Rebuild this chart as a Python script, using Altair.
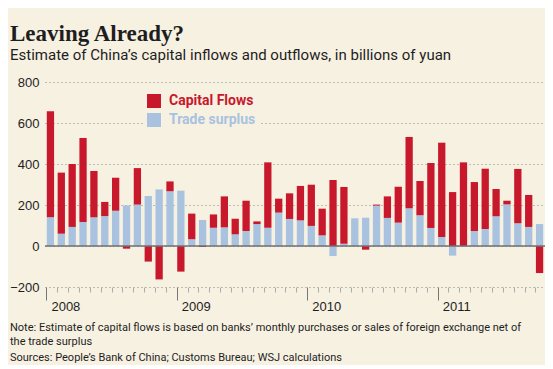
import altair as alt
import pandas as pd

# ---- data (billions of yuan) ----
months = [f"{y}-{m:02d}" for y in (2008, 2009, 2010, 2011) for m in range(1, 13)][:46]
trade_surplus = [140, 60, 93, 117, 140, 146, 172, 198, 202, 244, 276, 267,
                 270, 33, 127, 89, 91, 57, 73, 107, 89, 163, 132, 125,
                 98, 52, -49, 11, 135, 138, 197, 137, 114, 184, 150, 88,
                 44, -47, -3, 73, 83, 145, 203, 111, 93, 107]
capital_flows = [517, 298, 307, 410, 226, 69, 161, -13, 178, -76, -163, 48,
                 -125, 125, -5, 65, 151, 76, 148, 13, 319, 68, 125, 168,
                 201, 130, 322, 277, 0, -18, 5, 105, 175, 348, 167, 317,
                 460, 263, 408, 239, 294, 133, 18, 265, 156, -132]
series = ["Capital Flows", "Trade surplus"]
y_ticks = [-200, 0, 200, 400, 600, 800]

title_text = "Leaving Already?"
subtitle_text = "Estimate of China\u2019s capital inflows and outflows, in billions of yuan"
note_text = ("Note: Estimate of capital flows is based on banks\u2019 monthly purchases or sales of foreign exchange net of\n"
             "the trade surplus")
source_text = "Sources: People\u2019s Bank of China; Customs Bureau; WSJ calculations"

rows = []
for m, t, c in zip(months, trade_surplus, capital_flows):
    rows.append({"month": m, "series": "Trade surplus", "value": t, "stack_order": 0})
    rows.append({"month": m, "series": "Capital Flows", "value": c, "stack_order": 1})
df = pd.DataFrame(rows)

BG = "#f7f1e2"
RED = "#c8182c"
BLUE = "#a8c2df"
TXT = "#1e1e1e"
SANS = "Roboto, sans-serif"

bars = alt.Chart(df).mark_bar().encode(
    x=alt.X(
        "month:O", sort=months,
        scale=alt.Scale(paddingInner=0.33, paddingOuter=0.165),
        axis=alt.Axis(
            title=None, bandPosition=0, domain=False, grid=False,
            labelExpr="substring(datum.value,5,7)=='01' ? substring(datum.value,0,4) : ''",
            labelAngle=0, labelAlign="left", labelBaseline="top", labelOffset=1,
            labelPadding=0, labelOverlap=False, labelFont="Liberation Sans",
            labelFontSize=13, labelColor=TXT,
            tickSize=alt.ExprRef("substring(datum.value,5,7)=='01' ? 13 : 5"),
            tickColor=alt.ExprRef("substring(datum.value,5,7)=='01' ? '#777777' : '#aaaaaa'"),
            tickWidth=1,
        ),
    ),
    y=alt.Y(
        "value:Q", stack="zero",
        scale=alt.Scale(domain=[-200, 800], nice=False, zero=False),
        axis=alt.Axis(
            title=None, values=y_ticks, domain=False, ticks=False,
            grid=True, gridDash=[1, 3], gridColor="#888888", gridWidth=1,
            labelPadding=6, labelFont="Liberation Sans", labelFontSize=13,
            labelColor=TXT,
        ),
    ),
    color=alt.Color(
        "series:N",
        scale=alt.Scale(domain=series, range=[RED, BLUE]),
        legend=alt.Legend(
            title=None, orient="none", legendX=99, legendY=9, direction="vertical",
            symbolType="square", symbolSize=196, symbolStrokeWidth=0, symbolOpacity=1,
            labelFont=SANS, labelFontSize=14, labelFontWeight="bold",
            labelColor=alt.ExprRef("datum.label == 'Capital Flows' ? '" + RED + "' : '" + BLUE + "'"),
            labelOffset=8, rowPadding=5, padding=3, fillColor=BG,
        ),
    ),
    order=alt.Order("stack_order:Q"),
)

zero_line = alt.Chart(pd.DataFrame({"zero": [0]})).mark_rule(
    color="#707070", strokeWidth=1.5
).encode(y="zero:Q")

notes = alt.Chart(pd.DataFrame({"t": [note_text]})).mark_text(
    align="left", baseline="middle", lineBreak="\n", lineHeight=14,
    font=SANS, fontSize=11, color=TXT
).encode(text="t:N", x=alt.value(-35), y=alt.value(246))

sources = alt.Chart(pd.DataFrame({"t": [source_text]})).mark_text(
    align="left", baseline="middle",
    font=SANS, fontSize=11, color=TXT
).encode(text="t:N", x=alt.value(-35), y=alt.value(276))

chart = alt.layer(bars, zero_line, notes, sources).properties(
    width=500, height=205,
    background=BG,
    padding={"left": 37, "top": 74, "right": 0, "bottom": 78},
    autosize=alt.AutoSizeParams(type="none"),
    title=alt.TitleParams(
        title_text, subtitle=subtitle_text, anchor="start", frame="group",
        dx=-35, offset=13, font="Liberation Serif", fontSize=23, fontWeight="bold",
        color=TXT, subtitleFont=SANS, subtitleFontSize=15, subtitleColor=TXT,
        subtitlePadding=2,
    ),
).configure_view(stroke=None)

chart.save("out.html", embed_options={"renderer": "svg", "actions": False})
